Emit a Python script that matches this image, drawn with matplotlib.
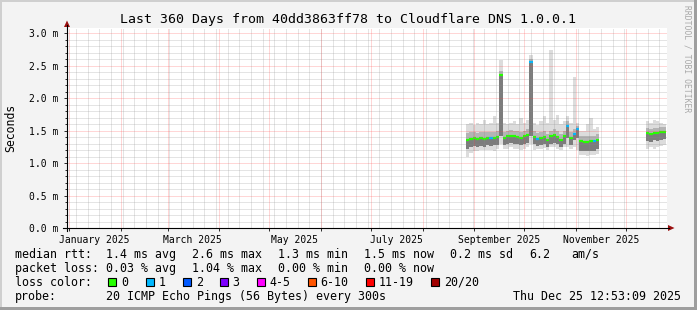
import numpy as np
import matplotlib
matplotlib.use('Agg')
import matplotlib.pyplot as plt
import matplotlib.dates as mdates
from matplotlib.lines import Line2D
from matplotlib.patches import Polygon, Rectangle

# ---------------- data ----------------
title = "Last 360 Days from 40dd3863ff78 to Cloudflare DNS 1.0.0.1"
t_start = np.datetime64('2024-12-30T12:53:09')
t_end = np.datetime64('2025-12-25T12:53:09')

y_ticks = [0.0, 0.5, 1.0, 1.5, 2.0, 2.5, 3.0]
y_tick_labels = ['0.0 m', '0.5 m', '1.0 m', '1.5 m', '2.0 m', '2.5 m', '3.0 m']
month_labels = ['January 2025', 'March 2025', 'May 2025', 'July 2025',
                'September 2025', 'November 2025']
month_label_dates = ['2025-01-16', '2025-03-16', '2025-05-16', '2025-07-16',
                     '2025-09-16', '2025-11-16']

# segment 1: 2-day consolidated samples starting 2025-08-27
seg1_start = '2025-08-27'
seg1_median = [1.35, 1.37, 1.38, 1.37, 1.38, 1.37, 1.39, 1.38, 1.39, 1.40,
               2.35, 1.38, 1.41, 1.42, 1.41, 1.40, 1.39, 1.41, 1.43, 2.56,
               1.40, 1.37, 1.38, 1.40, 1.36, 1.41, 1.43, 1.40, 1.36, 1.41,
               1.57, 1.38, 1.45, 1.53, 1.34, 1.33, 1.33, 1.34, 1.34, 1.36]
seg1_loss = [0, 0, 0, 0, 0, 0, 0, 1, 0, 0,
             0, 0, 0, 0, 0, 0, 0, 0, 0, 1,
             0, 1, 0, 0, 0, 0, 0, 0, 0, 0,
             1, 0, 1, 1, 0, 0, 0, 0, 1, 0]
seg1_max = [1.60, 1.62, 1.58, 1.62, 1.60, 1.66, 1.60, 1.62, 1.72, 1.62,
            2.58, 1.62, 1.60, 1.62, 1.64, 1.60, 1.70, 1.62, 1.66, 2.66,
            1.62, 1.58, 1.64, 1.72, 1.62, 2.74, 1.66, 1.74, 1.60, 1.64,
            1.72, 1.62, 2.33, 1.62, 1.50, 1.50, 1.60, 1.70, 1.52, 1.56]
seg1_core_hi = [1.46, 1.47, 1.47, 1.46, 1.47, 1.47, 1.48, 1.47, 1.48, 1.49,
                2.42, 1.47, 1.50, 1.51, 1.50, 1.49, 1.48, 1.50, 1.52, 2.60,
                1.49, 1.46, 1.47, 1.49, 1.45, 1.50, 1.52, 1.49, 1.45, 1.50,
                1.65, 1.47, 1.52, 1.57, 1.42, 1.41, 1.42, 1.42, 1.42, 1.44]
seg1_core_lo = [1.22, 1.25, 1.26, 1.25, 1.26, 1.25, 1.27, 1.26, 1.27, 1.28,
                1.42, 1.27, 1.30, 1.31, 1.30, 1.29, 1.28, 1.30, 1.31, 1.42,
                1.29, 1.26, 1.27, 1.29, 1.25, 1.30, 1.31, 1.29, 1.25, 1.30,
                1.38, 1.27, 1.36, 1.38, 1.19, 1.18, 1.18, 1.19, 1.19, 1.21]
seg1_min = [1.10, 1.15, 1.18, 1.18, 1.20, 1.20, 1.20, 1.20, 1.18, 1.22,
            1.30, 1.22, 1.22, 1.24, 1.22, 1.22, 1.20, 1.22, 1.24, 1.30,
            1.20, 1.21, 1.22, 1.23, 1.20, 1.24, 1.25, 1.22, 1.20, 1.24,
            1.25, 1.22, 1.24, 1.20, 1.12, 1.12, 1.11, 1.12, 1.12, 1.14]

# segment 2: 2-day samples starting 2025-12-13
seg2_start = '2025-12-13'
seg2_median = [1.46, 1.44, 1.46, 1.46, 1.47, 1.48]
seg2_loss = [0, 0, 0, 0, 0, 0]
seg2_max = [1.64, 1.62, 1.66, 1.64, 1.62, 1.60]
seg2_core_hi = [1.54, 1.52, 1.54, 1.54, 1.55, 1.56]
seg2_core_lo = [1.34, 1.33, 1.35, 1.34, 1.36, 1.37]
seg2_min = [1.22, 1.24, 1.22, 1.25, 1.26, 1.28]

loss_labels = ['0', '1', '2', '3', '4-5', '6-10', '11-19', '20/20']
loss_colors = ['#26ff00', '#00b8ff', '#0059ff', '#7e00ff', '#ff00ff',
               '#ff5500', '#ff0000', '#a10000']

legend_row1 = ["median rtt:", "1.4 ms avg", "2.6 ms max", "1.3 ms min",
               "1.5 ms now", "0.2 ms sd", "6.2", "am/s"]
legend_row2 = ["packet loss:", "0.03 % avg", "1.04 % max", "0.00 % min", "0.00 % now"]
legend_row3 = ["loss color:"]
legend_row4 = ["probe:", "20 ICMP Echo Pings (56 Bytes) every 300s"]
timestamp = "Thu Dec 25 12:53:09 2025"

# ---------------- layout ----------------
W, H = 697, 310
plt.rcParams['font.family'] = ['DejaVu Sans Mono', 'DejaVu Sans']
fig = plt.figure(figsize=(W / 100, H / 100), dpi=100)
fig.patch.set_facecolor('#f3f3f3')

def fx(x):
    return x / W

def fy(y):
    return 1 - y / H

PL, PR, PT, PB = 67, 667, 28, 228
ax = fig.add_axes([fx(PL), fy(PB), (PR - PL) / W, (PB - PT) / H])
ax.set_facecolor('white')
for s in ax.spines.values():
    s.set_visible(False)

x0 = mdates.date2num(t_start.astype('datetime64[s]').astype(object))
x1 = mdates.date2num(t_end.astype('datetime64[s]').astype(object))
ax.set_xlim(x0, x1)
ax.set_ylim(0, 200 / 65.0)

def dnum(s):
    return mdates.date2num(np.datetime64(s, 's').astype(object))

def draw_segment(start, med, loss, vmax, chi, clo, vmin):
    n = len(med)
    edges = np.datetime64(start, 's') + np.arange(n + 1) * np.timedelta64(2, 'D')
    te = mdates.date2num(edges.astype(object))
    ext = lambda a: np.append(np.asarray(a, float), a[-1])
    ax.fill_between(te, ext(vmin), ext(vmax), step='post', color='#dcdcdc', lw=0, zorder=2)
    ax.fill_between(te, ext(clo), ext(chi), step='post', color='#b4b4b4', lw=0, zorder=3)
    ax.fill_between(te, ext(clo), ext(med), step='post', color='#7c7c7c', lw=0, zorder=4)
    for k in range(n):
        ax.hlines(med[k], te[k], te[k + 1], color=loss_colors[loss[k]], lw=1.6,
                  zorder=6, capstyle='butt')

draw_segment(seg1_start, seg1_median, seg1_loss, seg1_max, seg1_core_hi, seg1_core_lo, seg1_min)
draw_segment(seg2_start, seg2_median, seg2_loss, seg2_max, seg2_core_hi, seg2_core_lo, seg2_min)

# grid
minor_c = (0.55, 0.55, 0.55, 0.45)
major_c = (1.0, 0.25, 0.25, 0.42)
dot = (0, (1, 1))
for v in np.arange(1, 31) / 10.0:
    if abs(v * 2 - round(v * 2)) > 1e-6:
        ax.axhline(v, color=minor_c, lw=0.72, ls=dot, zorder=7)
weeks = np.arange(np.datetime64('2025-01-05'), np.datetime64('2025-12-25'), 7)
for w in weeks:
    ax.axvline(dnum(str(w)), color=minor_c, lw=0.72, ls=dot, zorder=7)
for v in y_ticks[1:]:
    ax.axhline(v, color=major_c, lw=0.72, ls=dot, zorder=8)
months = ['2025-%02d-01' % m for m in range(1, 13)]
for m in months:
    ax.axvline(dnum(m), color=major_c, lw=0.72, ls=dot, zorder=8)

# ticks
ax.set_yticks(y_ticks)
ax.set_yticklabels(y_tick_labels, fontsize=7)
ax.set_yticks(np.arange(0, 31) / 10.0, minor=True)
ax.tick_params(axis='y', which='major', length=2.5, width=0.72, pad=3.5, color='#303030')
ax.tick_params(axis='y', which='minor', length=1.4, width=0.72, color='#303030')
ax.set_xticks([dnum(m) for m in months])
ax.set_xticklabels([])
ax.tick_params(axis='x', which='major', length=2.2, width=0.72, color='#303030')
for lab, d in zip(month_labels, month_label_dates):
    ax.text(dnum(d), -0.035, lab, transform=ax.get_xaxis_transform(), ha='center',
            va='top', fontsize=7)

# axis lines with arrows
arrow_c = '#9a0f0f'
fig.add_artist(Line2D([fx(PL), fx(PL)], [fy(231), fy(25)], color='black', lw=0.8))
fig.add_artist(Line2D([fx(63), fx(669)], [fy(PB), fy(PB)], color='black', lw=0.8))
fig.add_artist(Polygon([[fx(PL - 3), fy(27)], [fx(PL + 3), fy(27)], [fx(PL), fy(20.5)]],
                       closed=True, color=arrow_c, lw=0))
fig.add_artist(Polygon([[fx(668), fy(PB - 3)], [fx(668), fy(PB + 3)], [fx(674.5), fy(PB)]],
                       closed=True, color=arrow_c, lw=0))

# texts
fig.text(fx(348.5), fy(23.5), title, ha='center', va='baseline', fontsize=9.5)
fig.text(fx(10.5), fy(128), 'Seconds', rotation=90, ha='center', va='center', fontsize=8.3)
fig.text(fx(687), fy(5), 'RRDTOOL / TOBI OETIKER', rotation=270, ha='center', va='top',
         fontsize=5.8, color='#a8a8a8')

row_base = [257.8, 271.8, 285.8, 299.6]
col_x = [15.3, 106.5, 192.5, 278.3, 364.3, 450.3, 529.3, 571.6]
rows = [legend_row1, legend_row2, legend_row3, legend_row4]
for items, yb in zip(rows, row_base):
    for txt, xx in zip(items, col_x):
        fig.text(fx(xx), fy(yb), txt, ha='left', va='baseline', fontsize=8.4)
fig.text(fx(681), fy(row_base[3]), timestamp, ha='right', va='baseline', fontsize=8.4)

sw_x = [108, 145.7, 182.7, 219.7, 256.7, 307.7, 365.7, 430.7]
for c, l, sx in zip(loss_colors, loss_labels, sw_x):
    fig.add_artist(Rectangle((fx(sx), fy(285.7)), 8 / W, 8 / H, facecolor=c,
                             edgecolor='black', lw=0.8))
    fig.text(fx(sx + 13), fy(row_base[2]), l, ha='left', va='baseline', fontsize=8.4)

# 3D frame
fig.add_artist(Rectangle((0, 0), 2 / W, 1, color='#cfcfcf', lw=0))
fig.add_artist(Rectangle((0, 1 - 2 / H), 1, 2 / H, color='#cfcfcf', lw=0))
fig.add_artist(Rectangle((1 - 3 / W, 0), 3 / W, 1, color='#9e9e9e', lw=0))
fig.add_artist(Rectangle((0, 0), 1, 3 / H, color='#9e9e9e', lw=0))

fig.savefig('out.png', dpi=100, facecolor=fig.get_facecolor())
